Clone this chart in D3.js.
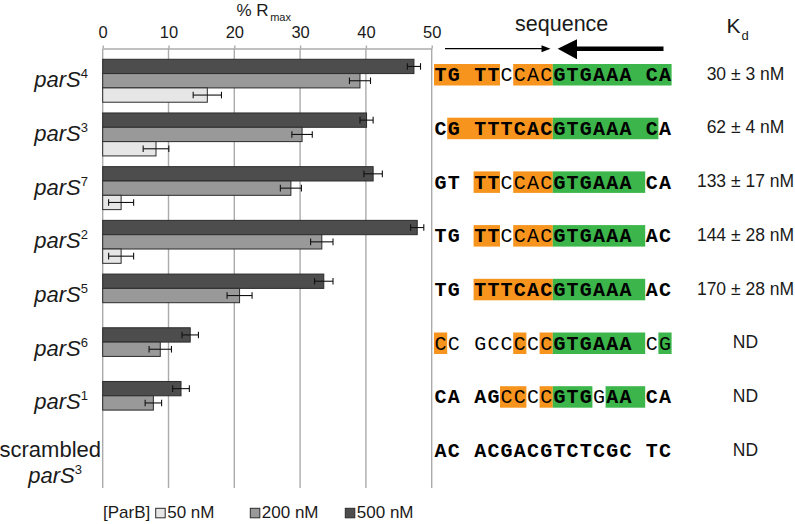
<!DOCTYPE html>
<html><head><meta charset="utf-8">
<script src="https://cdn.jsdelivr.net/npm/d3@7"></script>
<style>body{margin:0;background:#fff} svg{display:block}</style>
</head><body>
<svg id="c" width="795" height="524"></svg>
<script>
// ---------- data ----------
const categories = ["parS4","parS3","parS7","parS2","parS5","parS6","parS1","scrambled parS3"];
const labelSup = ["4","3","7","2","5","6","1","3"];
const concentrations = ["500 nM","200 nM","50 nM"];
const legendOrder = ["50 nM","200 nM","500 nM"];
const values500 = [47.3, 40.1, 41.1, 47.8, 33.6, 13.3, 11.9, null];
const err500    = [1.0, 1.0, 1.4, 1.0, 1.4, 1.25, 1.27, null];
const values200 = [39.1, 30.3, 28.6, 33.3, 20.8, 8.75, 7.7, null];
const err200    = [1.6, 1.55, 1.6, 1.7, 1.9, 1.7, 1.25, null];
const values50  = [15.9, 8.1, 2.8, 2.8, null, null, null, null];
const err50     = [2.15, 1.95, 1.9, 1.9, null, null, null, null];
const xTicks = [0, 10, 20, 30, 40, 50];
const sequences = [
  "TG TTCCACGTGAAA CA",
  "CG TTTCACGTGAAA CA",
  "GT TTCCACGTGAAA CA",
  "TG TTCCACGTGAAA AC",
  "TG TTTCACGTGAAA AC",
  "CC GCCCCCGTGAAA CG",
  "CA AGCCCCGTGGAA CA",
  "AC ACGACGTCTCGC TC"
];
// o = orange half-site, g = green half-site
const seqBg = [
  "ooooo oooggggggggg",
  " oooooooogggggggg ",
  "   oo oooggggggg  ",
  "   oo oooggggggg  ",
  "   ooooooggggggg  ",
  "o     o oggggggg g",
  "     oo oggg ggg  ",
  "                  "
];
// B = bold mono, r = regular
const seqFont = [
  "BBBBBrrrrBBBBBBBBB",
  "BBBBBBBBBBBBBBBBBB",
  "BBBBBrrrrBBBBBBBBB",
  "BBBBBrrrrBBBBBBBBB",
  "BBBBBBBBBBBBBBBBBB",
  "rrrrrrrrrBBBBBBrrr",
  "BBBBBrrrrBBBrBBBBB",
  "BBBBBBBBBBBBBBBBBB"
];
const kdLabels = ["30 ± 3 nM","62 ± 4 nM","133 ± 17 nM","144 ± 28 nM","170 ± 28 nM","ND","ND","ND"];

const seriesVals = {"500 nM": values500, "200 nM": values200, "50 nM": values50};
const seriesErr = {"500 nM": err500, "200 nM": err200, "50 nM": err50};
const fills = {"500 nM": "#4d4d4d", "200 nM": "#999999", "50 nM": "#e6e6e6"};

// ---------- layout ----------
const svg = d3.select("#c");
const sans = "'Liberation Sans', Arial, sans-serif";
const mono = "'Liberation Mono', 'Courier New', monospace";
const axisY = 48.5, gridBottom = 488;

const x = d3.scaleLinear().domain([0, 50]).range([102.7, 431.7]);
const y = d3.scaleBand().domain(categories).range([53.9, 483.5]).paddingInner(0.2).paddingOuter(0.1);
const ySub = d3.scaleBand().domain(concentrations).range([0, y.bandwidth()]);

// gridlines
svg.append("g").selectAll("line").data(xTicks).join("line")
  .attr("x1", d => x(d)).attr("x2", d => x(d))
  .attr("y1", axisY).attr("y2", gridBottom)
  .attr("stroke", "#ababab").attr("stroke-width", 1.4);

// top axis
const ax = svg.append("g").attr("transform", `translate(0,${axisY})`)
  .call(d3.axisTop(x).tickValues(xTicks).tickSize(3).tickSizeOuter(0).tickPadding(8));
ax.select(".domain").attr("stroke", "#ababab").attr("stroke-width", 1.4);
ax.selectAll(".tick line").attr("stroke", "#ababab").attr("stroke-width", 1.4);
ax.selectAll("text").attr("font-family", sans).attr("font-size", 16.5).attr("fill", "#1a1a1a");

// axis title
const t = svg.append("text").attr("x", 236.5).attr("y", 16)
  .attr("font-family", sans).attr("font-size", 17).attr("fill", "#1a1a1a");
t.append("tspan").text("% R");
t.append("tspan").attr("dx", 1.5).attr("dy", 5).attr("font-size", 11).text("max");

// bars
const rows = [];
categories.forEach((c, i) => concentrations.forEach(s => {
  const v = seriesVals[s][i];
  if (v != null) rows.push({c, s, v, e: seriesErr[s][i]});
}));
svg.append("g").selectAll("rect").data(rows).join("rect")
  .attr("x", x(0)).attr("y", d => y(d.c) + ySub(d.s))
  .attr("width", d => x(d.v) - x(0)).attr("height", ySub.bandwidth())
  .attr("fill", d => fills[d.s]).attr("stroke", "#2b2b2b").attr("stroke-width", 1);

// error bars
const eb = svg.append("g").attr("stroke", "#111").attr("stroke-width", 1.1);
rows.forEach(d => {
  const cy = y(d.c) + ySub(d.s) + ySub.bandwidth() / 2;
  eb.append("line").attr("x1", x(d.v - d.e)).attr("x2", x(d.v + d.e)).attr("y1", cy).attr("y2", cy);
  [d.v - d.e, d.v + d.e].forEach(vv => eb.append("line").attr("x1", x(vv)).attr("x2", x(vv))
    .attr("y1", cy - 3.3).attr("y2", cy + 3.3));
});

// category labels
categories.forEach((c, i) => {
  const cy = y(c) + y.bandwidth() / 2;
  if (c.startsWith("scrambled")) {
    svg.append("text").attr("x", 101).attr("y", cy).attr("text-anchor", "end")
      .attr("font-family", sans).attr("font-size", 22).attr("fill", "#1a1a1a").text("scrambled");
    const l = svg.append("text").attr("x", 82).attr("y", cy + 26.5).attr("text-anchor", "end")
      .attr("font-family", sans).attr("font-size", 22).attr("fill", "#1a1a1a");
    l.append("tspan").attr("font-style", "italic").text("parS");
    l.append("tspan").attr("font-size", 13).attr("dy", -9).text(labelSup[i]);
  } else {
    const l = svg.append("text").attr("x", 88).attr("y", cy + 6.5).attr("text-anchor", "end")
      .attr("font-family", sans).attr("font-size", 22).attr("fill", "#1a1a1a");
    l.append("tspan").attr("font-style", "italic").text("parS");
    l.append("tspan").attr("font-size", 13).attr("dy", -9).text(labelSup[i]);
  }
});

// sequence column
const x0 = 434, pitch = 13.2, boxH = 21.5;
const bgCol = {o: "#f7941d", g: "#3cb54a"};
sequences.forEach((seq, i) => {
  const cy = y(categories[i]) + y.bandwidth() / 2;
  const boxTop = cy - 6 - boxH / 2;
  const mask = seqBg[i];
  let j = 0;
  while (j < seq.length) {
    const b = mask[j];
    if (b === "o" || b === "g") {
      let k = j;
      while (k < seq.length && mask[k] === b) k++;
      svg.append("rect").attr("x", x0 + j * pitch).attr("y", boxTop)
        .attr("width", (k - j) * pitch).attr("height", boxH).attr("fill", bgCol[b]);
      j = k;
    } else j++;
  }
  seq.split("").forEach((ch, jj) => {
    if (ch === " ") return;
    const bold = seqFont[i][jj] === "B";
    svg.append("text").attr("x", x0 + (jj + 0.5) * pitch).attr("y", cy + 0.5)
      .attr("text-anchor", "middle").attr("font-family", mono)
      .attr("font-weight", bold ? "bold" : "normal").attr("font-size", 20)
      .attr("fill", "#000").text(ch);
  });
});

// sequence header and arrows
svg.append("text").attr("x", 561.7).attr("y", 30.7).attr("text-anchor", "middle")
  .attr("font-family", sans).attr("font-size", 21.5).attr("fill", "#1a1a1a").text("sequence");
svg.append("line").attr("x1", 445).attr("x2", 545).attr("y1", 48.7).attr("y2", 48.7)
  .attr("stroke", "#000").attr("stroke-width", 1.3);
svg.append("path").attr("d", "M550.5,48.7 L541.5,45.2 L541.5,52.2 Z").attr("fill", "#000");
svg.append("path").attr("d", "M557.7,48.7 L577,39.3 L577,46.4 L663.5,46.4 L663.5,51 L577,51 L577,59.3 Z").attr("fill", "#000");

// Kd header
svg.append("text").attr("x", 726.5).attr("y", 33.3).attr("font-family", sans)
  .attr("font-size", 21).attr("fill", "#1a1a1a").text("K");
svg.append("text").attr("x", 741.5).attr("y", 39.5).attr("font-family", sans)
  .attr("font-size", 13).attr("fill", "#1a1a1a").text("d");

// Kd values
kdLabels.forEach((k, i) => {
  const cy = y(categories[i]) + y.bandwidth() / 2;
  svg.append("text").attr("x", 745.5).attr("y", cy - 1).attr("text-anchor", "middle")
    .attr("font-family", sans).attr("font-size", 17.5).attr("fill", "#1a1a1a").text(k);
});

// legend
const legY = 518;
svg.append("text").attr("x", 103).attr("y", legY).attr("font-family", sans)
  .attr("font-size", 17).attr("fill", "#1a1a1a").text("[ParB]");
const legX = {"50 nM": 155.7, "200 nM": 250.3, "500 nM": 345.3};
legendOrder.forEach(s => {
  svg.append("rect").attr("x", legX[s]).attr("y", 508.3).attr("width", 9.5).attr("height", 9.5)
    .attr("fill", fills[s]).attr("stroke", "#2b2b2b").attr("stroke-width", 1);
  svg.append("text").attr("x", legX[s] + 11.5).attr("y", legY).attr("font-family", sans)
    .attr("font-size", 17).attr("fill", "#1a1a1a").text(s);
});
</script>
</body></html>
